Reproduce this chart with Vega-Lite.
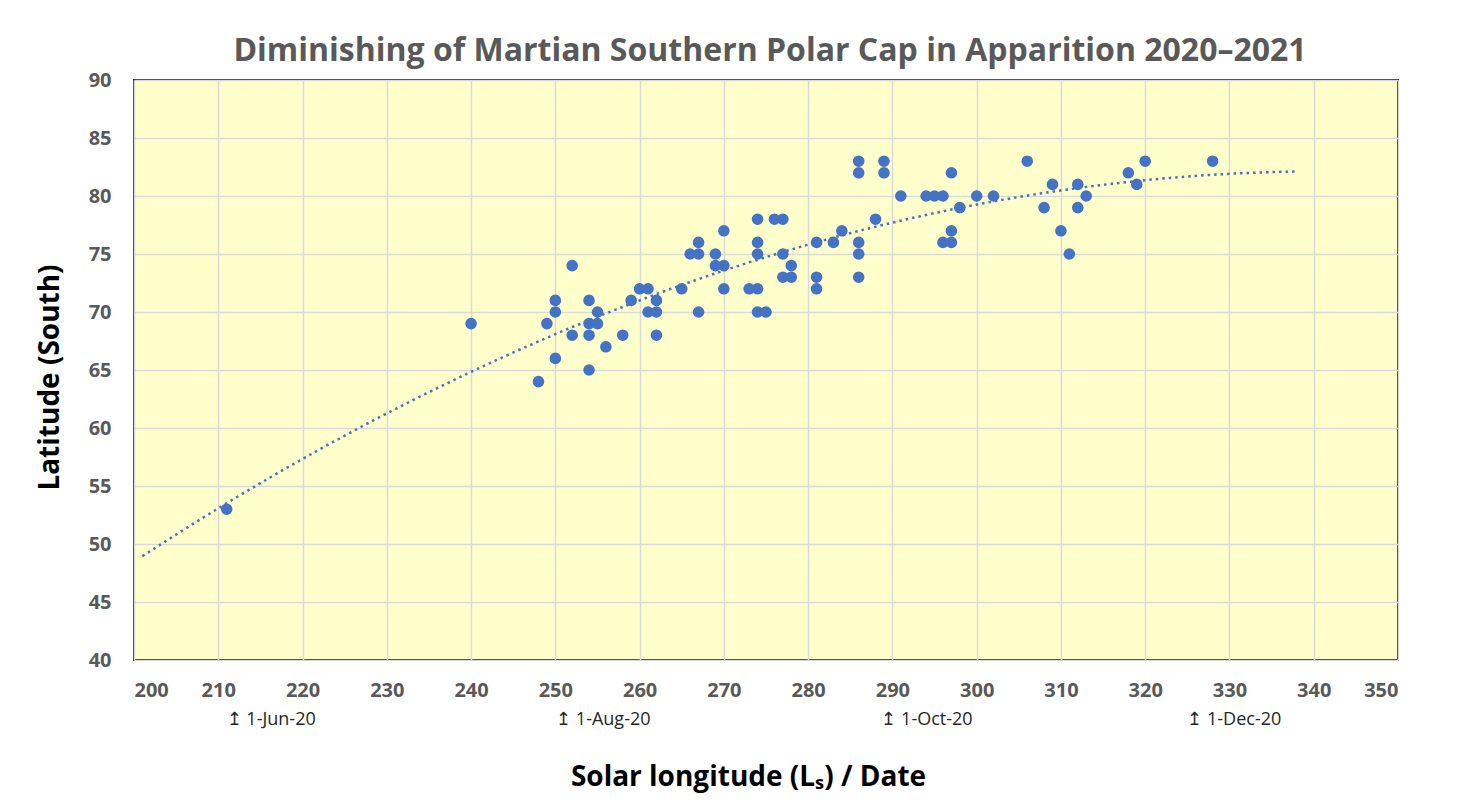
{
  "$schema": "https://vega.github.io/schema/vega-lite/v6.json",
  "autosize": {"type": "none"},
  "width": 1264,
  "height": 580,
  "padding": {"left": 134, "top": 80, "right": 78, "bottom": 143},
  "background": "white",
  "title": {
    "text": "Diminishing of Martian Southern Polar Cap in Apparition 2020–2021",
    "anchor": "middle",
    "frame": "group",
    "font": "Open Sans",
    "fontWeight": "bold",
    "fontSize": 32,
    "color": "#595959",
    "baseline": "alphabetic",
    "offset": -23,
    "dx": 4
  },
  "datasets": {
    "obs": [
      {"ls": 211, "lat": 53}, {"ls": 240, "lat": 69}, {"ls": 248, "lat": 64}, {"ls": 249, "lat": 69},
      {"ls": 250, "lat": 71}, {"ls": 250, "lat": 70}, {"ls": 250, "lat": 66},
      {"ls": 252, "lat": 74}, {"ls": 252, "lat": 68},
      {"ls": 254, "lat": 71}, {"ls": 254, "lat": 69}, {"ls": 254, "lat": 68}, {"ls": 254, "lat": 65},
      {"ls": 255, "lat": 70}, {"ls": 255, "lat": 69}, {"ls": 256, "lat": 67}, {"ls": 258, "lat": 68},
      {"ls": 259, "lat": 71}, {"ls": 260, "lat": 72}, {"ls": 261, "lat": 72}, {"ls": 261, "lat": 70},
      {"ls": 262, "lat": 71}, {"ls": 262, "lat": 70}, {"ls": 262, "lat": 68},
      {"ls": 265, "lat": 72}, {"ls": 266, "lat": 75},
      {"ls": 267, "lat": 76}, {"ls": 267, "lat": 75}, {"ls": 267, "lat": 70},
      {"ls": 269, "lat": 75}, {"ls": 269, "lat": 74},
      {"ls": 270, "lat": 77}, {"ls": 270, "lat": 74}, {"ls": 270, "lat": 72},
      {"ls": 273, "lat": 72},
      {"ls": 274, "lat": 78}, {"ls": 274, "lat": 76}, {"ls": 274, "lat": 75}, {"ls": 274, "lat": 72}, {"ls": 274, "lat": 70},
      {"ls": 275, "lat": 70}, {"ls": 276, "lat": 78},
      {"ls": 277, "lat": 78}, {"ls": 277, "lat": 75}, {"ls": 277, "lat": 73},
      {"ls": 278, "lat": 74}, {"ls": 278, "lat": 73},
      {"ls": 281, "lat": 76}, {"ls": 281, "lat": 73}, {"ls": 281, "lat": 72},
      {"ls": 283, "lat": 76}, {"ls": 284, "lat": 77},
      {"ls": 286, "lat": 83}, {"ls": 286, "lat": 82}, {"ls": 286, "lat": 76}, {"ls": 286, "lat": 75}, {"ls": 286, "lat": 73},
      {"ls": 288, "lat": 78}, {"ls": 289, "lat": 83}, {"ls": 289, "lat": 82},
      {"ls": 291, "lat": 80}, {"ls": 294, "lat": 80}, {"ls": 295, "lat": 80}, {"ls": 296, "lat": 80}, {"ls": 296, "lat": 76},
      {"ls": 297, "lat": 82}, {"ls": 297, "lat": 77}, {"ls": 297, "lat": 76},
      {"ls": 298, "lat": 79}, {"ls": 300, "lat": 80}, {"ls": 302, "lat": 80},
      {"ls": 306, "lat": 83}, {"ls": 308, "lat": 79}, {"ls": 309, "lat": 81}, {"ls": 310, "lat": 77}, {"ls": 311, "lat": 75},
      {"ls": 312, "lat": 81}, {"ls": 312, "lat": 79}, {"ls": 313, "lat": 80},
      {"ls": 318, "lat": 82}, {"ls": 319, "lat": 81}, {"ls": 320, "lat": 83}, {"ls": 328, "lat": 83}
    ],
    "dates": [
      {"ls": 211.0, "label": "↥ 1-Jun-20"},
      {"ls": 250.1, "label": "↥ 1-Aug-20"},
      {"ls": 288.7, "label": "↥ 1-Oct-20"},
      {"ls": 325.0, "label": "↥ 1-Dec-20"}
    ]
  },
  "config": {
    "view": {"fill": "#FFFFCC", "stroke": "#262626", "strokeWidth": 2},
    "axis": {
      "grid": true,
      "gridColor": "#D9D9D9",
      "gridWidth": 1.5,
      "domain": false,
      "ticks": false,
      "labelFont": "Open Sans",
      "labelFontWeight": "bold",
      "labelFontSize": 20,
      "labelColor": "#595959",
      "titleFont": "Open Sans",
      "titleFontWeight": "bold",
      "titleColor": "#000000"
    }
  },
  "layer": [
    {
      "data": {"name": "obs"},
      "transform": [
        {"regression": "lat", "on": "ls", "method": "poly", "order": 2, "extent": [201, 338]}
      ],
      "mark": {"type": "line", "color": "#4472C4", "strokeWidth": 2.5, "strokeDash": [2.5, 4], "strokeCap": "butt"},
      "encoding": {
        "x": {"field": "ls", "type": "quantitative"},
        "y": {"field": "lat", "type": "quantitative"}
      }
    },
    {
      "data": {"name": "obs"},
      "mark": {"type": "point", "filled": true, "shape": "circle", "size": 135, "color": "#4472C4", "opacity": 1},
      "encoding": {
        "x": {
          "field": "ls", "type": "quantitative",
          "scale": {"domain": [200, 350], "nice": false, "zero": false},
          "axis": {
            "values": [200, 210, 220, 230, 240, 250, 260, 270, 280, 290, 300, 310, 320, 330, 340, 350],
            "labelPadding": 20,
            "title": "Solar longitude (Lₛ) / Date",
            "titleFontSize": 28,
            "titleBaseline": "alphabetic",
            "titleX": 614,
            "titleY": 125
          }
        },
        "y": {
          "field": "lat", "type": "quantitative",
          "scale": {"domain": [40, 90], "nice": false, "zero": false},
          "axis": {
            "values": [40, 45, 50, 55, 60, 65, 70, 75, 80, 85, 90],
            "labelPadding": 23,
            "title": "Latitude (South)",
            "titleFontSize": 28,
            "titleAngle": -90,
            "titleBaseline": "alphabetic",
            "titleX": -76,
            "titleY": 297
          }
        }
      }
    },
    {
      "data": {"name": "dates"},
      "mark": {"type": "text", "align": "left", "baseline": "middle", "font": "Open Sans", "fontSize": 18, "color": "#262626"},
      "encoding": {
        "x": {"field": "ls", "type": "quantitative"},
        "y": {"datum": 34.83},
        "text": {"field": "label"}
      }
    }
  ]
}
